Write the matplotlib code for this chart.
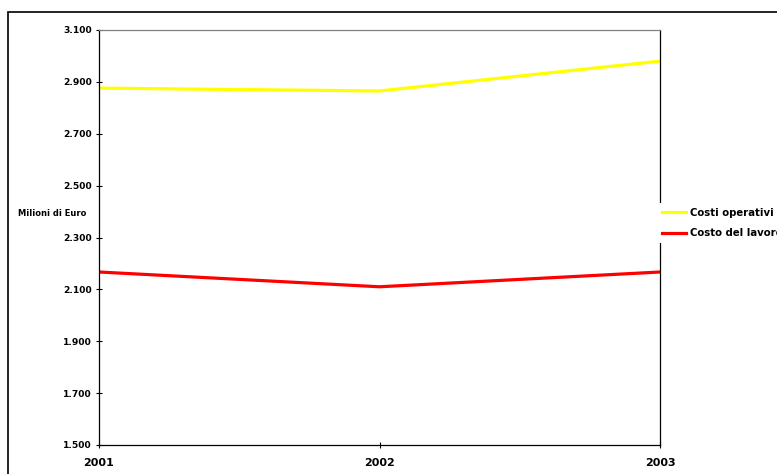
import matplotlib.pyplot as plt
from matplotlib.patches import Rectangle
from matplotlib.ticker import FuncFormatter

years = [2001, 2002, 2003]
costi_operativi = [2876, 2865, 2980]
costo_lavoro = [2167, 2110, 2167]
series_names = ["Costi operativi", "Costo del lavoro"]
y_ticks = [1500, 1700, 1900, 2100, 2300, 2500, 2700, 2900, 3100]

W, H = 777, 474
fig = plt.figure(figsize=(W / 100, H / 100), dpi=100)
ax = fig.add_axes([99 / W, 1 - 445 / H, (660 - 99) / W, (445 - 30) / H])

ax.plot(years, costi_operativi, color="#ffff00", lw=2.3, label=series_names[0])
ax.plot(years, costo_lavoro, color="#ff0000", lw=2.3, label=series_names[1])

ax.set_xlim(2001, 2003)
ax.set_ylim(1500, 3100)
ax.set_xticks(years)
ax.set_xticklabels([str(y) for y in years], fontsize=8, fontweight="bold")
ax.set_yticks(y_ticks)
ax.yaxis.set_major_formatter(FuncFormatter(lambda v, p: f"{v:,.0f}".replace(",", ".")))
for lab in ax.get_yticklabels():
    lab.set_fontsize(6.6)
    lab.set_fontweight("bold")
ax.tick_params(axis="both", direction="inout", length=4, width=0.8, color="black")
ax.tick_params(axis="x", pad=7)
ax.tick_params(axis="y", pad=3)

ax.spines["top"].set_color("#808080")
for s in ["left", "right", "bottom"]:
    ax.spines[s].set_color("black")
for s in ax.spines.values():
    s.set_linewidth(0.9)

fig.text(18 / W, 1 - 213 / H, "Milioni di Euro", fontsize=6, fontweight="bold",
         va="center", ha="left")

leg = fig.legend(loc="center left", bbox_to_anchor=(652 / W, 1 - 223 / H),
                 prop={"weight": "bold", "size": 7.3},
                 handlelength=2.4, handletextpad=0.35, labelspacing=1.0,
                 borderpad=0.5, frameon=True, fancybox=False)
leg.get_frame().set_edgecolor("none")
leg.get_frame().set_facecolor("white")
leg.get_frame().set_alpha(1)

fig.patches.append(Rectangle((8 / W, -0.1), 1.2, 1 - 12 / H + 0.1,
                             transform=fig.transFigure, fill=False,
                             edgecolor="black", lw=1.2, zorder=-1))

fig.savefig("out.png", dpi=100)
